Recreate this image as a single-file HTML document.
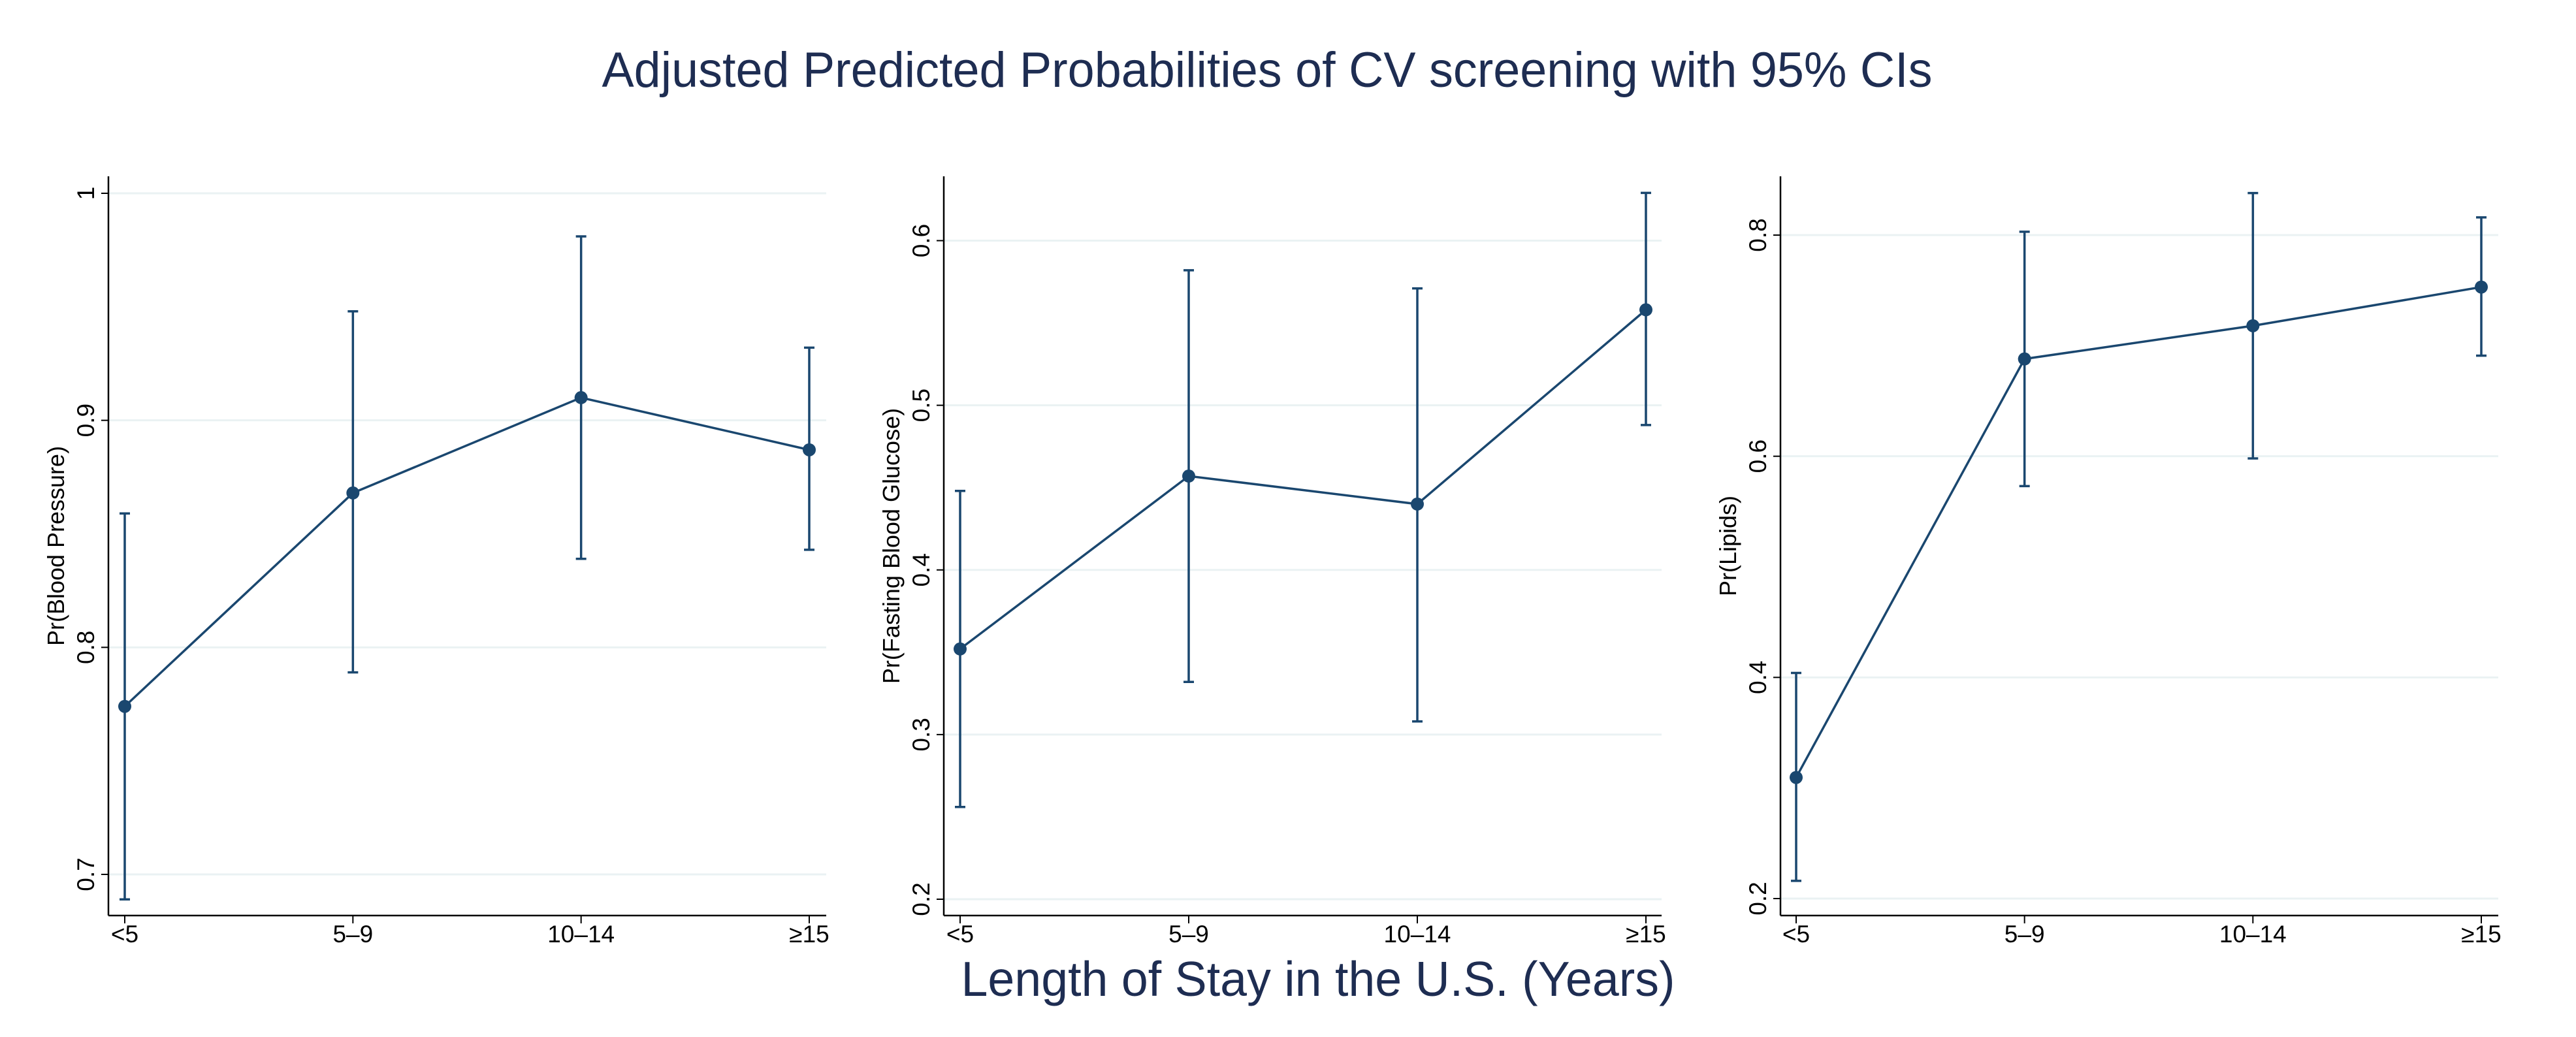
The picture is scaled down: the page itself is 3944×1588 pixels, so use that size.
<!DOCTYPE html>
<html><head><meta charset="utf-8"><style>
html,body{margin:0;padding:0;background:#fff;}
svg{display:block;font-family:"Liberation Sans",Arial,sans-serif;}
</style></head><body>
<svg id="chart" width="3944" height="1588" viewBox="0 0 3944 1588" xmlns="http://www.w3.org/2000/svg">
<rect x="0" y="0" width="3944" height="1588" fill="#fff"/>
<text x="1940" y="133" font-size="76" fill="#1e2d52" text-anchor="middle" textLength="2037" lengthAdjust="spacingAndGlyphs">Adjusted Predicted Probabilities of CV screening with 95% CIs</text>
<text x="2018" y="1525" font-size="75" fill="#1e2d52" text-anchor="middle" textLength="1093" lengthAdjust="spacingAndGlyphs">Length of Stay in the U.S. (Years)</text>
</svg>
<script>
const categories = ["<5", "5\u20139", "10\u201314", "\u226515"];
const bpValues = [0.774, 0.868, 0.910, 0.887];
const bpLower = [0.689, 0.789, 0.839, 0.843];
const bpUpper = [0.859, 0.948, 0.981, 0.932];
const bpTicks = [0.7, 0.8, 0.9, 1];
const bpTickLabels = ["0.7", "0.8", "0.9", "1"];
const fbgValues = [0.352, 0.457, 0.440, 0.558];
const fbgLower = [0.256, 0.332, 0.308, 0.488];
const fbgUpper = [0.448, 0.582, 0.571, 0.629];
const fbgTicks = [0.2, 0.3, 0.4, 0.5, 0.6];
const fbgTickLabels = ["0.2", "0.3", "0.4", "0.5", "0.6"];
const lipValues = [0.3095, 0.688, 0.718, 0.753];
const lipLower = [0.216, 0.573, 0.598, 0.691];
const lipUpper = [0.404, 0.803, 0.838, 0.816];
const lipTicks = [0.2, 0.4, 0.6, 0.8];
const lipTickLabels = ["0.2", "0.4", "0.6", "0.8"];

const NS = "http://www.w3.org/2000/svg";
const svg = document.getElementById("chart");
const COL = "#1a476f";
function mk(tag, attrs, parent){
  const e = document.createElementNS(NS, tag);
  for (const k in attrs) e.setAttribute(k, attrs[k]);
  (parent || svg).appendChild(e);
  return e;
}
const panels = [
  {key:"blood-pressure", title:"Pr(Blood Pressure)", vals:bpValues, lo:bpLower, hi:bpUpper, ticks:bpTicks, tl:bpTickLabels,
   ax:166, right:1265, top:270, bottom:1402, x0:191, x1:1239, v0:0.7, y0:1339, v1:1.0, y1:296},
  {key:"fasting-glucose", title:"Pr(Fasting Blood Glucose)", vals:fbgValues, lo:fbgLower, hi:fbgUpper, ticks:fbgTicks, tl:fbgTickLabels,
   ax:1445, right:2544, top:270, bottom:1402, x0:1470, x1:2520, v0:0.2, y0:1377, v1:0.6, y1:368.5},
  {key:"lipids", title:"Pr(Lipids)", vals:lipValues, lo:lipLower, hi:lipUpper, ticks:lipTicks, tl:lipTickLabels,
   ax:2726, right:3825, top:270, bottom:1402, x0:2750, x1:3799, v0:0.2, y0:1376, v1:0.8, y1:360}
];
panels.forEach(p => {
  const g = mk("g", {});
  
  
  const yS = v => p.y0 + (v - p.v0) * (p.y1 - p.y0) / (p.v1 - p.v0);
  const xS = i => p.x0 + i * (p.x1 - p.x0) / (categories.length - 1);
  // gridlines and y ticks
  p.ticks.forEach((t, i) => {
    const y = yS(t);
    const gl = mk("line", {x1:p.ax, x2:p.right, y1:y, y2:y, stroke:"#eaf2f3", "stroke-width":3}, g);
    
    
    mk("line", {x1:p.ax-11, x2:p.ax, y1:y, y2:y, stroke:"#000", "stroke-width":2}, g);
    const tx = mk("text", {x:0, y:0, "font-size":37, fill:"#000", "text-anchor":"middle",
      transform:"translate(" + (p.ax-22) + "," + y + ") rotate(-90)"}, g);
    
    
    tx.textContent = p.tl[i];
  });
  // axes
  const ya = mk("line", {x1:p.ax, x2:p.ax, y1:p.top, y2:p.bottom, stroke:"#000", "stroke-width":2.5}, g);
  
  
  const xa = mk("line", {x1:p.ax, x2:p.right, y1:p.bottom, y2:p.bottom, stroke:"#000", "stroke-width":2.5}, g);
  
  
  const at = mk("text", {x:0, y:0, "font-size":36, fill:"#000", "text-anchor":"middle",
    transform:"translate(" + (p.ax-68) + "," + ((p.top+p.bottom)/2) + ") rotate(-90)"}, g);
  
  
  at.textContent = p.title;
  categories.forEach((c, i) => {
    const x = xS(i);
    mk("line", {x1:x, x2:x, y1:p.bottom, y2:p.bottom+12, stroke:"#000", "stroke-width":2}, g);
    const tx = mk("text", {x:x, y:1443, "font-size":37, fill:"#000", "text-anchor":"middle"}, g);
    
    
    tx.textContent = c;
  });
  // CI bars
  categories.forEach((c, i) => {
    const x = xS(i), yl = yS(p.lo[i]), yh = yS(p.hi[i]);
    const ci = mk("path", {d:"M"+x+","+yl+"V"+yh+"M"+(x-8)+","+yl+"H"+(x+8)+"M"+(x-8)+","+yh+"H"+(x+8),
      stroke:COL, "stroke-width":3.5, fill:"none"}, g);
    
    
  });
  // line
  const pts = p.vals.map((v, i) => xS(i) + "," + yS(v)).join(" ");
  const pl = mk("polyline", {points:pts, stroke:COL, "stroke-width":3.5, fill:"none"}, g);
  
  
  p.vals.forEach((v, i) => {
    const m = mk("circle", {cx:xS(i), cy:yS(v), r:10, fill:COL}, g);
    
    
  });
});
</script>
</body></html>
